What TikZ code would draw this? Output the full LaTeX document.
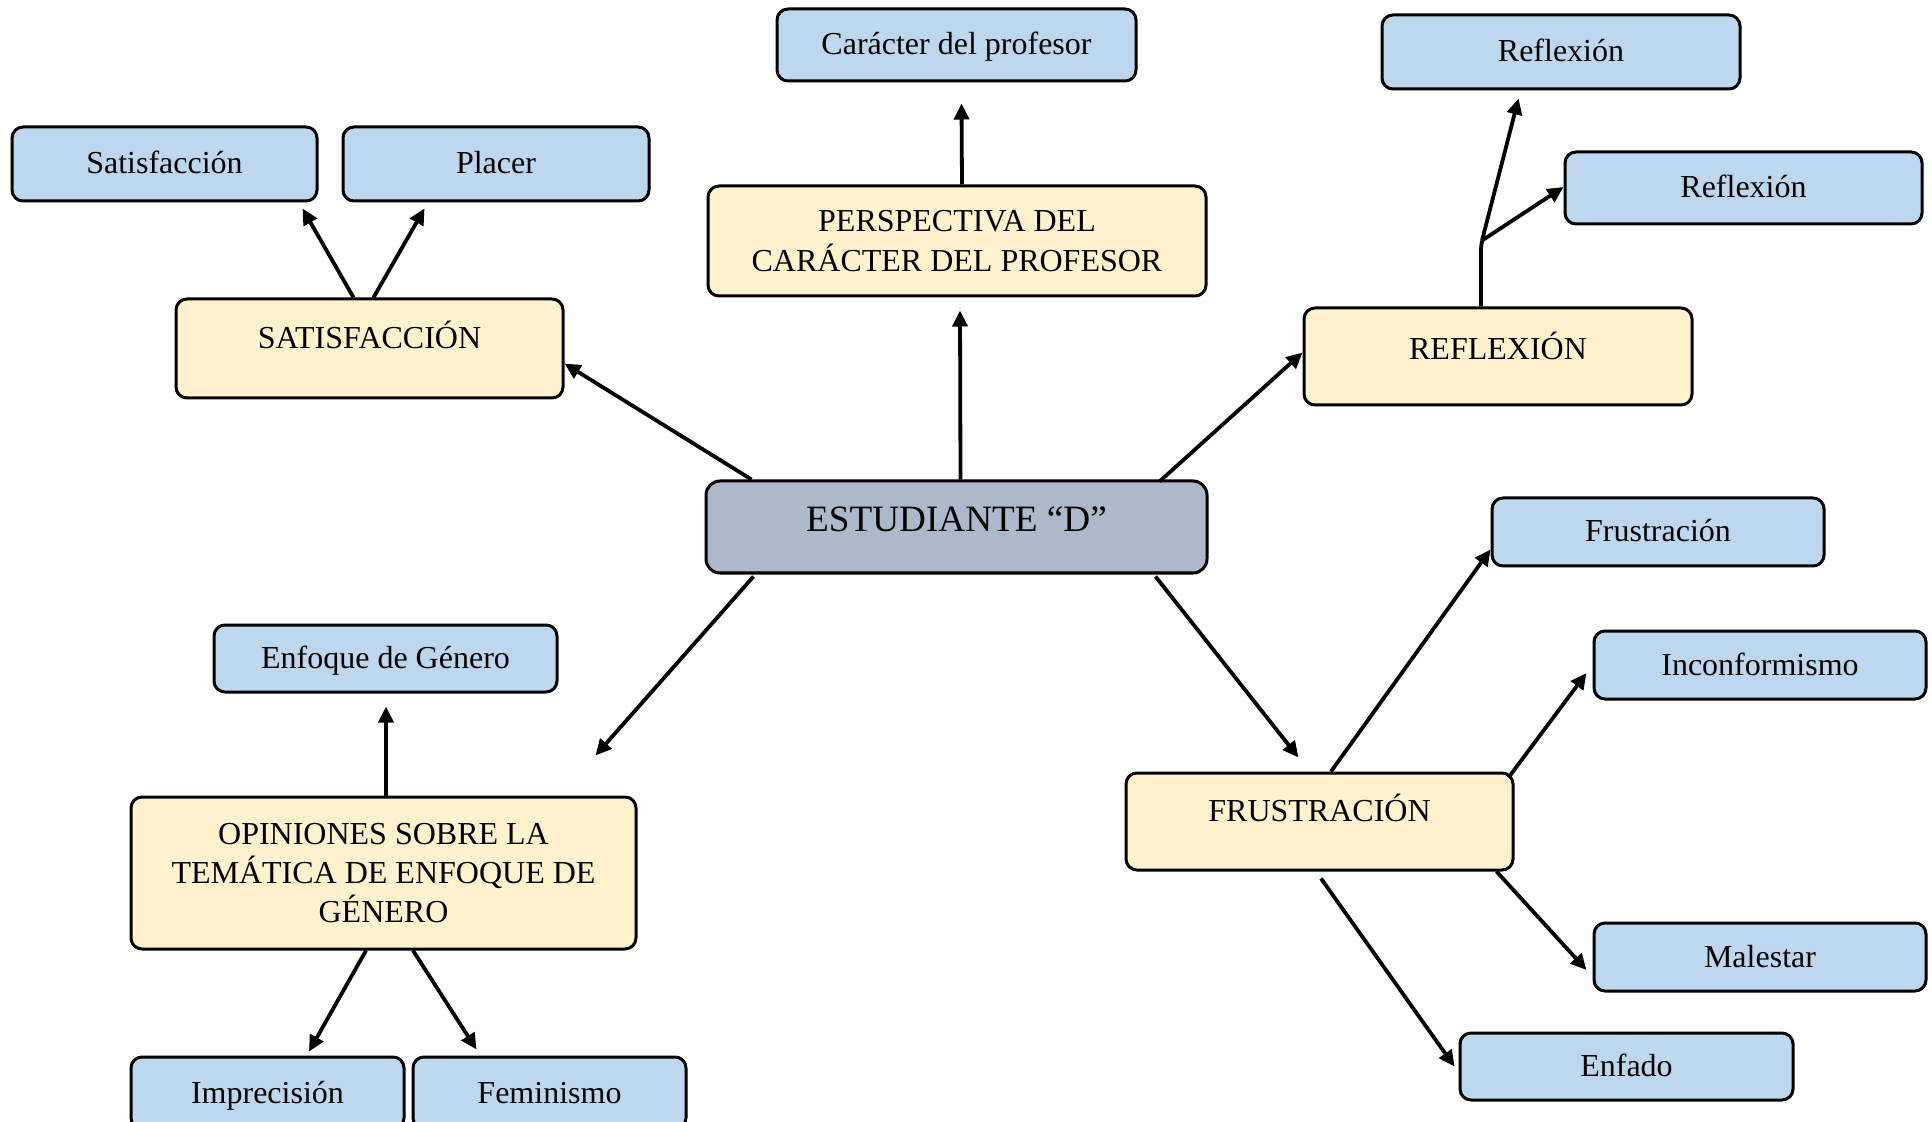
\documentclass[tikz,border=0pt]{standalone}
\usepackage{fontspec}
\setmainfont{Liberation Serif}
\usetikzlibrary{arrows.meta,calc}
\definecolor{bluebox}{HTML}{BDD7EE}
\definecolor{yelbox}{HTML}{FFF2CC}
\definecolor{grybox}{HTML}{ADB9CA}
\newcommand\liftxt[2]{\raisebox{#1}[\height][\depth]{#2}}
\tikzset{
 base/.style={draw=black, line width=1.5pt, rounded corners=5.5pt, inner sep=0pt, align=center, font=\fontsize{16}{19.7}\selectfont, text=black},
 bluenode/.style={base, fill=bluebox, text height=12.5pt, text depth=2.5pt},
 yelnode/.style={base, fill=yelbox},
 centnode/.style={base, fill=grybox, rounded corners=7pt, font=\fontsize{18.6}{22}\selectfont},
 sz/.style 2 args={minimum width=#1*0.5pt, minimum height=#2*0.5pt},
 conn/.style={line width=1.9pt, -{Triangle[length=8pt,width=7.5pt]}},
 seg/.style={line width=1.9pt},
}
\begin{document}
\begin{tikzpicture}[x=0.5pt,y=-0.5pt]
\useasboundingbox (0,0) rectangle (1932,1122);
\fill[white] (0,0) rectangle (1932,1122);
% nodes
\node[centnode, sz={501}{92}] (est) at (956.5,527) {\liftxt{4pt}{ESTUDIANTE “D”}};
\node[yelnode, sz={387}{99}] (sat) at (369.5,348.5) {\liftxt{7pt}{SATISFACCIÓN}};
\node[bluenode, sz={305}{74}] (sat1) at (164.5,164) {Satisfacción};
\node[bluenode, sz={306}{74}] (pla) at (496,164) {Placer};
\node[yelnode, sz={498}{110}] (pers) at (957,241) {PERSPECTIVA DEL\\CARÁCTER DEL PROFESOR};
\node[bluenode, sz={359}{72}] (car) at (956.5,45) {Carácter del profesor};
\node[yelnode, sz={388}{97}] (ref) at (1498,356.5) {\liftxt{5.5pt}{REFLEXIÓN}};
\node[bluenode, sz={358}{74}] (ref1) at (1561,52) {Reflexión};
\node[bluenode, sz={357}{72}] (ref2) at (1743.5,188) {Reflexión};
\node[yelnode, sz={387}{97}] (fru) at (1319.5,821.5) {\liftxt{6.7pt}{FRUSTRACIÓN}};
\node[bluenode, sz={332}{68}] (fru1) at (1658,532) {Frustración};
\node[bluenode, sz={332}{68}] (inc) at (1760,665) {Inconformismo};
\node[bluenode, sz={332}{68}] (mal) at (1760,957) {Malestar};
\node[bluenode, sz={333}{67}] (enf) at (1626.5,1066.5) {Enfado};
\node[yelnode, sz={505}{152}] (opi) at (383.5,873) {OPINIONES SOBRE LA\\TEMÁTICA DE ENFOQUE DE\\GÉNERO};
\node[bluenode, sz={343}{67}] (gen) at (385.5,658.5) {Enfoque de Género};
\node[bluenode, sz={273}{72}] (imp) at (267.5,1093) {Imprecisión};
\node[bluenode, sz={273}{72}] (fem) at (549.5,1093) {Feminismo};
% connectors from centre
\draw[conn] ($(est.north west)+(47,0)$) -- ($(sat.north east)+(0,66)$);
\draw[conn] ($(est.north)+(4,0)$) -- ($(pers.south)+(3,13)$);
\draw[conn] ($(est.north east)+(-49,2)$) -- ($(ref.west)+(0,-4)$);
\coordinate (opiend) at ($(opi.north east)+(-42,-40)$);
\draw[conn] ($(est.south west)+(49,2)$) -- (opiend);
\draw[conn] ($(est.south east)+(-53,2)$) -- ($(fru.north west)+(174,-14)$);
% perspectiva
\draw[conn] ($(pers.north)+(5,0)$) -- ($(car.south)+(5,21)$);
% satisfaccion
\draw[conn] ($(sat.north west)+(179,0)$) -- ($(sat1.south east)+(-16,6)$);
\draw[conn] ($(sat.north west)+(199,0)$) -- ($(pla.south west)+(83,6)$);
% reflexion
\coordinate (rb) at ($(ref.north)+(-16,-66)$);
\draw[seg, line join=round] ($(ref.north)+(-17,0)$) -- ($(ref.north)+(-17,-58)$) -- (rb);
\draw[conn] (rb) -- ($(ref1.south west)+(138,8)$);
\draw[conn] (rb) -- ($(ref2.west)+(0,-1)$);
% opiniones
\draw[conn] ($(opi.north)+(2.5,0)$) -- ($(gen.south)+(0.5,13)$);
\draw[conn] ($(opi.south)+(-17.5,0)$) -- ($(imp.north)+(41.5,-4)$);
\draw[conn] ($(opi.south)+(29.5,0)$) -- ($(fem.north west)+(65,-6)$);
% frustracion
\draw[conn] ($(fru.north)+(11.5,0)$) -- ($(fru1.south west)+(0,-18)$);
\draw[conn] ($(fru.north east)+(-6,6)$) -- ($(inc.west)+(-6,8)$);
\draw[conn] ($(fru.south east)+(-18,0)$) -- ($(mal.west)+(-6,13)$);
\draw[conn] ($(fru.south)+(1.5,7)$) -- ($(enf.west)+(-4,0)$);
\end{tikzpicture}
\end{document}
